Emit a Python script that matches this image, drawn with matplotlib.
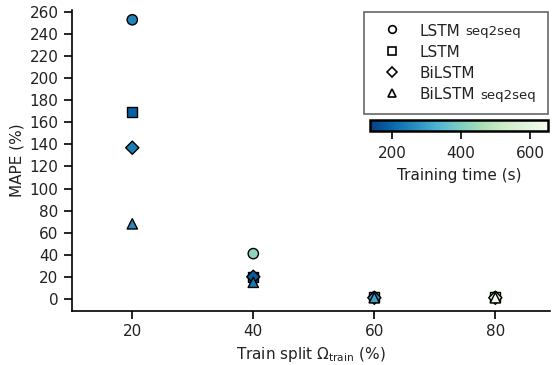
import numpy as np
import matplotlib
matplotlib.use("Agg")
import matplotlib.pyplot as plt
from matplotlib.lines import Line2D
from matplotlib.font_manager import FontProperties
from matplotlib.offsetbox import AnchoredOffsetbox, HPacker, VPacker, TextArea, DrawingArea

plt.rcParams['font.family'] = ['DejaVu Sans']
plt.rcParams['font.size'] = 11
plt.rcParams['text.color'] = '#222222'
plt.rcParams['axes.labelcolor'] = '#222222'
plt.rcParams['xtick.labelcolor'] = '#222222'
plt.rcParams['ytick.labelcolor'] = '#222222'

# Train split values (%)
splits = [20, 40, 60, 80]

# MAPE (%) per model
mape_lstm_s2s = [253, 41, 1.5, 1.5]
mape_lstm = [169, 20, 1.5, 1.5]
mape_bilstm = [137, 20, 1.0, 1.0]
mape_bilstm_s2s = [68, 15, 1.0, 1.0]

# Training time (s) per model
time_lstm_s2s = [250, 420, 300, 540]
time_lstm = [190, 170, 290, 500]
time_bilstm = [240, 180, 280, 560]
time_bilstm_s2s = [260, 230, 300, 640]

models = ['LSTM', 'LSTM', 'BiLSTM', 'BiLSTM']
suffixes = ['seq2seq', '', '', 'seq2seq']
markers = ['o', 's', 'D', '^']
mapes = [mape_lstm_s2s, mape_lstm, mape_bilstm, mape_bilstm_s2s]
times = [time_lstm_s2s, time_lstm, time_bilstm, time_bilstm_s2s]
sizes = [55, 52, 45, 55]

vmin, vmax = 136, 652
cmap = plt.get_cmap('GnBu_r')

fig = plt.figure(figsize=(5.52, 3.65), dpi=100)
ax = fig.add_axes([0.130, 0.148, 0.866, 0.825])

sc = None
for m, y, t, s in zip(markers, mapes, times, sizes):
    sc = ax.scatter(splits, y, c=t, cmap=cmap, vmin=vmin, vmax=vmax,
                    marker=m, s=s, edgecolors='black', linewidths=1.0, zorder=3)

ax.set_xlim(10, 89)
ax.set_ylim(-11, 262)
ax.set_xticks(splits)
ax.set_yticks(np.arange(0, 261, 20))
ax.spines['top'].set_visible(False)
ax.spines['right'].set_visible(False)
ax.spines['left'].set_linewidth(1.2)
ax.spines['bottom'].set_linewidth(1.2)
ax.tick_params(width=1.2, length=6)
ax.set_xlabel(r'Train split $\Omega_{\mathrm{train}}$ (%)')
ax.set_ylabel('MAPE (%)')

# legend built by hand so that "seq2seq" can be set in a smaller size
renderer = fig.canvas.get_renderer()
sfx_size = 9.5
sfx_gap = 3.5
rows = []
name_texts = []
for name, m, sfx in zip(models, markers, suffixes):
    da = DrawingArea(31.5, 8, 0, 0)
    da.add_artist(Line2D([11.5], [4.5], linestyle='none', marker=m, markersize=5.5,
                         markerfacecolor='white', markeredgecolor='black',
                         markeredgewidth=1.2))
    ta = TextArea(name, textprops=dict(size=11))
    parts = [da, ta]
    if sfx:
        w, _, _ = renderer.get_text_width_height_descent(
            sfx, FontProperties(family='DejaVu Sans', size=sfx_size), ismath=False)
        parts.append(DrawingArea(sfx_gap + w * 72 / fig.dpi, 0, 0, 0))
    name_texts.append(ta._text)
    rows.append(HPacker(children=parts, align='baseline', pad=0, sep=0))
box = VPacker(children=rows, align='left', pad=0, sep=4.5)
leg = AnchoredOffsetbox(loc='upper right', child=box, pad=0.78, borderpad=0.12,
                        frameon=True, bbox_to_anchor=(1.0, 1.0),
                        bbox_transform=ax.transAxes, prop=dict(size=11))
leg.patch.set_boxstyle('square', pad=0)
leg.patch.set_edgecolor('#666666')
leg.patch.set_linewidth(1.2)
leg.zorder = 5
ax.add_artist(leg)

for txt, sfx in zip(name_texts, suffixes):
    if sfx:
        ax.annotate(sfx, xy=(1, 0), xycoords=txt, xytext=(sfx_gap, 0.6),
                    textcoords='offset points', fontsize=sfx_size,
                    va='bottom', ha='left', zorder=6)

cax = fig.add_axes([370 / 552, 1 - 131 / 365, 178 / 552, 11 / 365])
cb = fig.colorbar(sc, cax=cax, orientation='horizontal')
cb.set_ticks([200, 400, 600])
cb.outline.set_linewidth(1.8)
cax.tick_params(width=1.2, length=6, pad=5)
cb.set_label('Training time (s)', labelpad=5)

fig.savefig('out.png', dpi=100)
